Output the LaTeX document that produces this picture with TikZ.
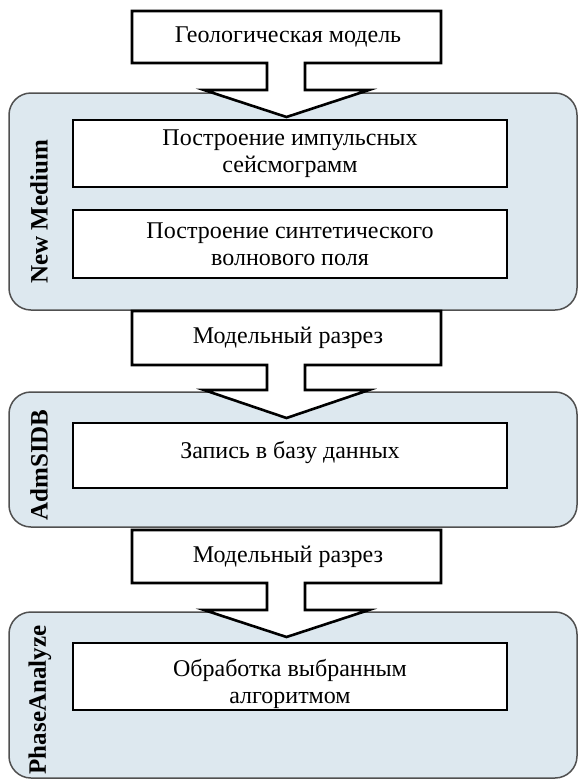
\documentclass[tikz,border=0pt]{standalone}
\usepackage{fontspec}
\setmainfont{Liberation Serif}
\definecolor{panelfill}{HTML}{DDE8EF}
\definecolor{panelline}{HTML}{505050}
\tikzset{
  panel/.style={draw=panelline, line width=1.5pt, fill=panelfill, rounded corners=22pt},
  stepbox/.style={draw=black, line width=2.6pt, fill=white},
  blockarrow/.style={draw=black, line width=2.6pt, fill=white, line join=miter},
  txt/.style={align=center, font=\fontsize{24}{27}\selectfont, inner sep=0pt},
  vlabel/.style={rotate=90, font=\fontsize{25}{28}\selectfont\bfseries, inner sep=0pt}
}
\begin{document}
\begin{tikzpicture}[x=1pt, y=-1pt]
\useasboundingbox (0,0) rectangle (579,780);
% panels
\draw[panel] (9,93) rectangle (577,310);
\draw[panel] (9,392) rectangle (577,527);
\draw[panel] (9,612) rectangle (577,778);
\node[vlabel] (l1) at (39,212) {New Medium};
\node[vlabel] (l2) at (39,465) {AdmSIDB};
\node[vlabel] (l3) at (40,700) {PhaseAnalyze};
% inner boxes
\draw[stepbox] (73,120) rectangle (507,187);
\node[txt] (b1) at (290,154) {Построение импульсных\\сейсмограмм};
\draw[stepbox] (73,210) rectangle (507,278);
\node[txt] (b2) at (290,244) {Построение синтетического\\волнового поля};
\draw[stepbox] (73,423) rectangle (507,488);
\node[txt] (b3) at (290,452) {Запись в базу данных};
\draw[stepbox] (73,643) rectangle (507,710);
\node[txt] (b4) at (290,684) {Обработка выбранным\\алгоритмом};
% block arrows
\draw[blockarrow] (132,11) -- (441,11) -- (441,63) -- (305,63) -- (305,90) -- (369,90) -- (286.5,117) -- (204,90) -- (267,90) -- (267,63) -- (132,63) -- cycle;
\node[txt] (g1) at (288,37) {Геологическая модель};
\draw[blockarrow] (132,311) -- (441,311) -- (441,365) -- (305,365) -- (305,390) -- (369,390) -- (286.5,418) -- (204,390) -- (267,390) -- (267,365) -- (132,365) -- cycle;
\node[txt] (m1) at (288,338) {Модельный разрез};
\draw[blockarrow] (132,530) -- (441,530) -- (441,583) -- (305,583) -- (305,610) -- (369,610) -- (286.5,637) -- (204,610) -- (267,610) -- (267,583) -- (132,583) -- cycle;
\node[txt] (m2) at (288,557) {Модельный разрез};
\end{tikzpicture}
\end{document}
